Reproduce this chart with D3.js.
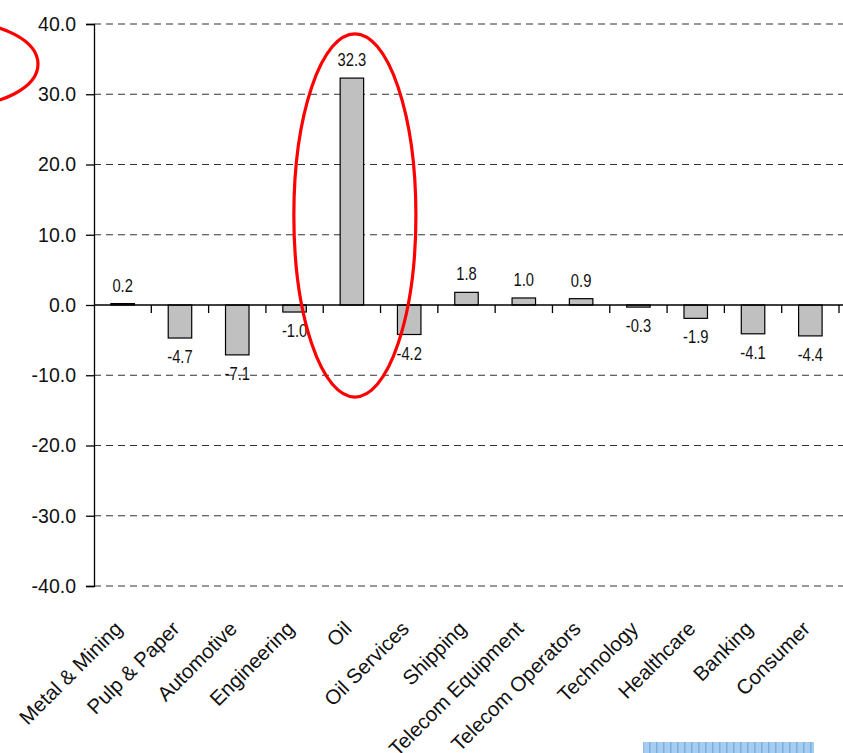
<!DOCTYPE html>
<html>
<head>
<meta charset="utf-8">
<script src="https://cdn.jsdelivr.net/npm/d3@7"></script>
<style>
  html, body { margin: 0; padding: 0; background: #fff; }
  svg { display: block; }
  text { font-family: "Liberation Sans", Arial, sans-serif; fill: #111; }
</style>
</head>
<body>
<svg id="chart" width="843" height="753"></svg>
<script>
// Sector performance (%)
const sectors = ["Metal & Mining", "Pulp & Paper", "Automotive", "Engineering", "Oil",
  "Oil Services", "Shipping", "Telecom Equipment", "Telecom Operators", "Technology",
  "Healthcare", "Banking", "Consumer"];
const changes = [0.2, -4.7, -7.1, -1.0, 32.3, -4.2, 1.8, 1.0, 0.9, -0.3, -1.9, -4.1, -4.4];
const yTicks = [40, 30, 20, 10, 0, -10, -20, -30, -40];

// One decimal, plain hyphen for negatives
const fmt = v => (v < 0 ? "-" : "") + Math.abs(v).toFixed(1);

const svg = d3.select("#chart");
const plotLeft = 94, plotRight = 839, plotTop = 24, plotBottom = 586;

const x = d3.scaleBand()
  .domain(sectors)
  .range([plotLeft, plotRight])
  .paddingInner(0.59)
  .paddingOuter(0.295);

const y = d3.scaleLinear().domain([-40, 40]).range([plotBottom, plotTop]);
const step = x.step();

// Dashed gridlines
svg.append("g")
  .selectAll("line")
  .data(yTicks.filter(d => d !== 0))
  .join("line")
  .attr("x1", plotLeft).attr("x2", 843)
  .attr("y1", d => y(d)).attr("y2", d => y(d))
  .attr("stroke", "#333")
  .attr("stroke-width", 1)
  .attr("stroke-dasharray", "7,5");

// Y axis
const yAxis = d3.axisLeft(y)
  .tickValues(yTicks)
  .tickFormat(fmt)
  .tickSize(8)
  .tickPadding(10);
const gy = svg.append("g").attr("transform", `translate(${plotLeft},0)`).call(yAxis);
gy.select(".domain").attr("stroke", "#000").attr("stroke-width", 1.3);
gy.selectAll(".tick line").attr("stroke", "#000").attr("stroke-width", 1.3);
gy.selectAll(".tick text")
  .attr("font-size", 19.5)
  .attr("fill", "#111")
  .style("font-family", "'Liberation Sans', Arial, sans-serif");

// Bars
svg.append("g")
  .selectAll("rect")
  .data(sectors.map((s, i) => ({ s, v: changes[i] })))
  .join("rect")
  .attr("x", d => x(d.s))
  .attr("width", x.bandwidth())
  .attr("y", d => y(Math.max(0, d.v)))
  .attr("height", d => Math.abs(y(d.v) - y(0)))
  .attr("fill", "#c0c0c0")
  .attr("stroke", "#000")
  .attr("stroke-width", 1.2);

// Zero line with category separator ticks
svg.append("line")
  .attr("x1", plotLeft).attr("x2", 843)
  .attr("y1", y(0)).attr("y2", y(0))
  .attr("stroke", "#000").attr("stroke-width", 1.3);

svg.append("g")
  .selectAll("line")
  .data(sectors)
  .join("line")
  .attr("x1", d => x(d) + x.bandwidth() + (step - x.bandwidth()) / 2)
  .attr("x2", d => x(d) + x.bandwidth() + (step - x.bandwidth()) / 2)
  .attr("y1", y(0)).attr("y2", y(0) + 8)
  .attr("stroke", "#000").attr("stroke-width", 1.3);

// Value labels (slightly condensed)
svg.append("g")
  .selectAll("text")
  .data(sectors.map((s, i) => ({ s, v: changes[i] })))
  .join("text")
  .attr("transform", d => `translate(${x(d.s) + x.bandwidth() / 2},${d.v >= 0 ? y(d.v) - 12 : y(d.v) + 25}) scale(0.82,1)`)
  .attr("text-anchor", "middle")
  .attr("font-size", 18)
  .text(d => fmt(d.v));

// Category labels, rotated
svg.append("g")
  .selectAll("text")
  .data(sectors)
  .join("text")
  .attr("transform", d => `translate(${x(d) + x.bandwidth() / 2 + 1},${plotBottom + 44}) rotate(-45)`)
  .attr("text-anchor", "end")
  .attr("font-size", 20.5)
  .text(d => d);

// Highlight ellipse around the Oil bar
const oilCx = x("Oil") + x.bandwidth() / 2 + 3;
const ellTop = 38.6, ellBottom = -13.1;
svg.append("ellipse")
  .attr("cx", oilCx)
  .attr("cy", (y(ellTop) + y(ellBottom)) / 2)
  .attr("rx", step * 1.065)
  .attr("ry", (y(ellBottom) - y(ellTop)) / 2)
  .attr("fill", "none")
  .attr("stroke", "#ff0000")
  .attr("stroke-width", 3.2);

// Partial highlight ellipse at the left edge
svg.append("ellipse")
  .attr("cx", -42)
  .attr("cy", y(34.3))
  .attr("rx", 80)
  .attr("ry", 42)
  .attr("fill", "none")
  .attr("stroke", "#ff0000")
  .attr("stroke-width", 3.2);

// Striped blue strip at the bottom edge
const defs = svg.append("defs");
const pat = defs.append("pattern")
  .attr("id", "stripes")
  .attr("patternUnits", "userSpaceOnUse")
  .attr("width", 7).attr("height", 20);
pat.append("rect").attr("width", 7).attr("height", 20).attr("fill", "#a6cdef");
pat.append("rect").attr("x", 5).attr("width", 1.5).attr("height", 20).attr("fill", "#79aedd");
svg.append("rect")
  .attr("x", 643).attr("y", 742)
  .attr("width", 171).attr("height", 11)
  .attr("fill", "url(#stripes)");
</script>
</body>
</html>
